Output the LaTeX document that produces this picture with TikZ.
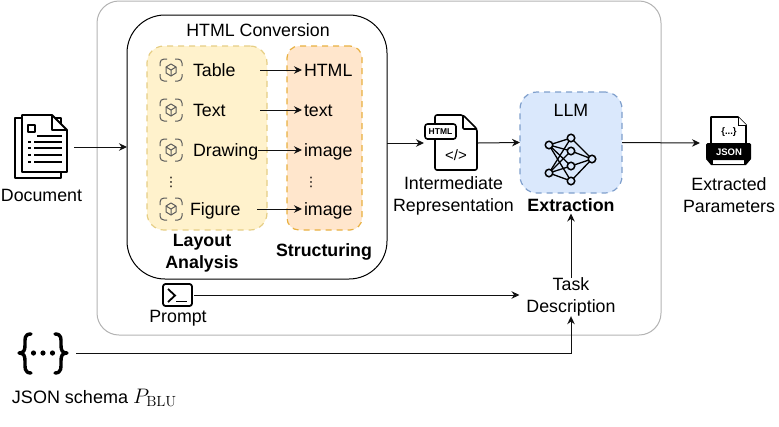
\RequirePackage{fix-cm}
\documentclass[tikz,border=0pt]{standalone}
\usepackage[no-math]{fontspec}
\setmainfont{Liberation Sans}
\newfontfamily\dejavu{DejaVu Sans}
\usetikzlibrary{arrows.meta,calc}
\definecolor{outerg}{HTML}{B3B3B3}
\definecolor{yfill}{HTML}{FFF2CC}
\definecolor{ydraw}{HTML}{E6CE85}
\definecolor{ofill}{HTML}{FFE6CC}
\definecolor{odraw}{HTML}{E8B040}
\definecolor{bfill}{HTML}{DAE8FC}
\definecolor{bdraw}{HTML}{7F9FCC}
\definecolor{icong}{HTML}{5A5A5A}
\definecolor{linek}{HTML}{111111}
\tikzset{
  x=1pt,y=-1pt,
  every node/.style={inner sep=0pt,outer sep=0pt,text=black},
  lab/.style={font=\fontsize{17.8}{21.8}\selectfont,align=center},
  blab/.style={font=\fontsize{17.8}{21.8}\selectfont\bfseries,align=center},
  oneline/.style={lab,text height=13,text depth=0},
  conn/.style={draw=linek,line width=1pt,-{Stealth[length=8pt,width=7.5pt]}},
  groupbox/.style={dash pattern=on 6pt off 5pt,line width=1.2pt},
  icoline/.style={draw=black,line width=1.6pt,line join=round},
  nnv/.style={circle,draw=black,line width=1.5pt,fill=bfill,minimum size=7.5},
  dotsv/.style={font=\dejavu\fontsize{13}{14}\selectfont},
  cubeic/.pic={
    \draw[icong,line width=1pt,rounded corners=4pt] (-11,-4)--(-11,-11)--(-4,-11);
    \draw[icong,line width=1pt,rounded corners=4pt] (4,-11)--(11,-11)--(11,-4);
    \draw[icong,line width=1pt,rounded corners=4pt] (-11,4)--(-11,11)--(-4,11);
    \draw[icong,line width=1pt,rounded corners=4pt] (4,11)--(11,11)--(11,4);
    \draw[icong,line width=1pt,line join=round] (0,-6)--(5,-3)--(5,3)--(0,6)--(-5,3)--(-5,-3)--cycle;
    \draw[icong,line width=1pt,line join=round] (-5,-3)--(0,0)--(5,-3) (0,0)--(0,6);
  }
}
\begin{document}
\begin{tikzpicture}
\useasboundingbox (0,0) rectangle (779,426);
% containers
\node[draw=outerg,line width=1pt,rounded corners=22pt,minimum width=564pt,minimum height=334pt] (outer) at (379,168) {};
\node[draw=black,line width=1pt,rounded corners=38pt,minimum width=260pt,minimum height=264pt] (conv) at (257,147) {};
\node[fill=yfill,draw=ydraw,groupbox,rounded corners=17pt,minimum width=120pt,minimum height=184pt] (layout) at (207,138) {};
\node[fill=ofill,draw=odraw,groupbox,rounded corners=12pt,minimum width=75pt,minimum height=184pt] (struct) at (324.5,138) {};
\node[fill=bfill,draw=bdraw,groupbox,rounded corners=17pt,minimum width=102pt,minimum height=101pt] (llm) at (571,142.5) {};
% texts
\node[oneline] (convt) at (258,30) {HTML Conversion};
\node[oneline,anchor=west] (ltable) at (193,70) {Table};
\node[oneline,anchor=west] (ltext) at (193,110) {Text};
\node[oneline,anchor=west] (ldraw) at (193,150) {Drawing};
\node[oneline,anchor=west] (lfig) at (190,209) {Figure};
\node[oneline,anchor=west,inner xsep=2pt] (rhtml) at (302,70) {HTML};
\node[oneline,anchor=west,inner xsep=2pt] (rtext) at (302,110) {text};
\node[oneline,anchor=west,inner xsep=2pt] (rimg) at (302,150) {image};
\node[oneline,anchor=west,inner xsep=2pt] (rimgb) at (302,209) {image};
\node[dotsv] (vd1) at (171,182) {⋮};
\node[dotsv] (vd2) at (311,182) {⋮};
\node[blab] (layt) at (202,253) {Layout\\Analysis};
\node[blab] (strt) at (324,252) {Structuring};
\node[lab] (doct) at (41.5,195) {Document};
\node[lab] (irt) at (453.5,196) {Intermediate\\Representation};
\node[oneline] (llmt) at (571,110) {LLM};
\node[blab,text height=15,text depth=2] (extr) at (571,205) {Extraction};
\node[lab] (expt) at (729,195) {Extracted\\Parameters};
\node[lab,inner xsep=7pt,inner ysep=0pt] (task) at (571,297) {Task\\Description};
\node[lab] (prt) at (178,318) {Prompt};
\node[anchor=base west,font=\fontsize{18}{22}\selectfont] (schema) at (12,403) {JSON schema \fontsize{21}{24}\selectfont$P_{\mathrm{BLU}}$};
% cube icons
\pic at (171,70) {cubeic};
\pic at (171,110) {cubeic};
\pic at (171,150) {cubeic};
\pic at (171,209) {cubeic};
% icon slots
\node[minimum width=59pt,minimum height=64pt] (docic) at (44.5,147) {};
\node[minimum width=54pt,minimum height=56pt] (htmlic) at (451,143) {};
\node[minimum width=50pt,minimum height=50pt] (jsonic) at (725,143) {};
\node[minimum width=40pt,minimum height=22pt] (prompic) at (174,295) {};
\node[minimum width=59pt,minimum height=44pt] (braceic) at (46.5,353) {};
% document icon
\draw[icoline,line width=1.8pt,fill=white] (15,118)--(15,178)--(61,178)--(61,118)--cycle;
\draw[icoline,line width=1.8pt,fill=white] (22,115)--(52,115)--(67,130)--(67,172)--(22,172)--cycle;
\draw[icoline,line width=1.4pt] (52,115)--(52,130)--(67,130);
\draw[icoline,line width=1.4pt] (28,125) rectangle (35,132);
\draw[black,line width=1.6pt] (37,136)--(62,136) (34,142)--(62,142) (34,148)--(62,148) (34,155)--(62,155) (34,162)--(62,162);
\draw[black,line width=1.6pt] (28,142)--(31,142) (28,148)--(31,148) (28,155)--(31,155) (28,162)--(31,162);
% html file icon
\draw[icoline,fill=white,rounded corners=2pt] (435,115)--(463,115)--(477,129)--(477,170)--(435,170)--cycle;
\draw[icoline,rounded corners=1pt] (463,115)--(463,129)--(477,129);
\draw[icoline,fill=white,rounded corners=2.5pt] (425,124) rectangle (456,139);
\node[font=\fontsize{8.5}{9}\selectfont\bfseries] (htmltag) at (440.5,131.5) {HTML};
\node[font=\fontsize{15}{15}\selectfont] (code) at (456,155) {</>};
% json output icon
\fill[black] (706,159)--(711,165)--(746,165)--(751,159)--cycle;
\draw[black,line width=1.6pt,fill=white,line join=round] (711,143)--(711,117)--(738,117)--(746,125)--(746,143);
\draw[black,line width=1pt,fill=white] (738,117)--(738,125)--(746,125);
\fill[white] (713,160) rectangle (744,163.5);
\fill[black,rounded corners=1.5pt] (706,143) rectangle (751,160);
\node[font=\fontsize{9.5}{10}\selectfont\bfseries] (jbr) at (729,132) {\{...\}};
\node[font=\fontsize{9.5}{10}\selectfont\bfseries,text=white] (jlab) at (729,152) {JSON};
% prompt icon
\draw[icoline,line width=1.8pt,rounded corners=2.5pt] (163,284) rectangle (192,306);
\draw[black,line width=1.8pt,line join=miter] (168,289)--(175,295.5)--(168,302);
\draw[black,line width=1.8pt] (176,301.5)--(187,301.5);
% schema braces
\draw[black,line width=3.4pt,line cap=round,line join=round] (31,334) .. controls (24,334) and (25,339) .. (25,345) .. controls (25,350) and (24,353) .. (19,353) .. controls (24,353) and (25,356) .. (25,361) .. controls (25,367) and (24,373) .. (31,373);
\draw[black,line width=3.4pt,line cap=round,line join=round] (55,334) .. controls (62,334) and (61,339) .. (61,345) .. controls (61,350) and (62,353) .. (67,353) .. controls (62,353) and (61,356) .. (61,361) .. controls (61,367) and (62,373) .. (55,373);
\fill[black] (33.5,353) circle (2.6pt) (43,353) circle (2.6pt) (52.5,353) circle (2.6pt);
% neural net
\node[nnv] (n1) at (549,145) {};
\node[nnv] (n2) at (549,173) {};
\node[nnv] (m1) at (571,138) {};
\node[nnv] (m2) at (571,151) {};
\node[nnv] (m3) at (571,166) {};
\node[nnv] (m4) at (571,181) {};
\node[nnv] (o1) at (592,159) {};
\foreach \a in {n1,n2}\foreach \b in {m1,m2,m3,m4}\draw[black,line width=1.3pt] (\a)--(\b);
\foreach \b in {m1,m2,m3,m4}\draw[black,line width=1.3pt] (\b)--(o1);
% connectors
\coordinate (tableo) at (260,70);
\coordinate (texto) at (260,110);
\coordinate (figo) at (257,209);
\draw[conn] (docic.east)--(conv.west);
\draw[conn] (tableo)--(rhtml.west);
\draw[conn] (texto)--(rtext.west);
\draw[conn] (ldraw.east)--(rimg.west);
\draw[conn] (figo)--(rimgb.west);
\draw[conn] (conv.east |- htmlic.west)--(htmlic.west);
\draw[conn] (htmlic.east)--(llm.west);
\draw[conn] (llm.east)--(jsonic.west);
\draw[conn] (task.north)--(extr.south);
\draw[conn] (prompic.east)--(prompic.east -| task.west);
\draw[conn] (braceic.east)--(braceic.east -| task.south)--(task.south);
\end{tikzpicture}
\end{document}
